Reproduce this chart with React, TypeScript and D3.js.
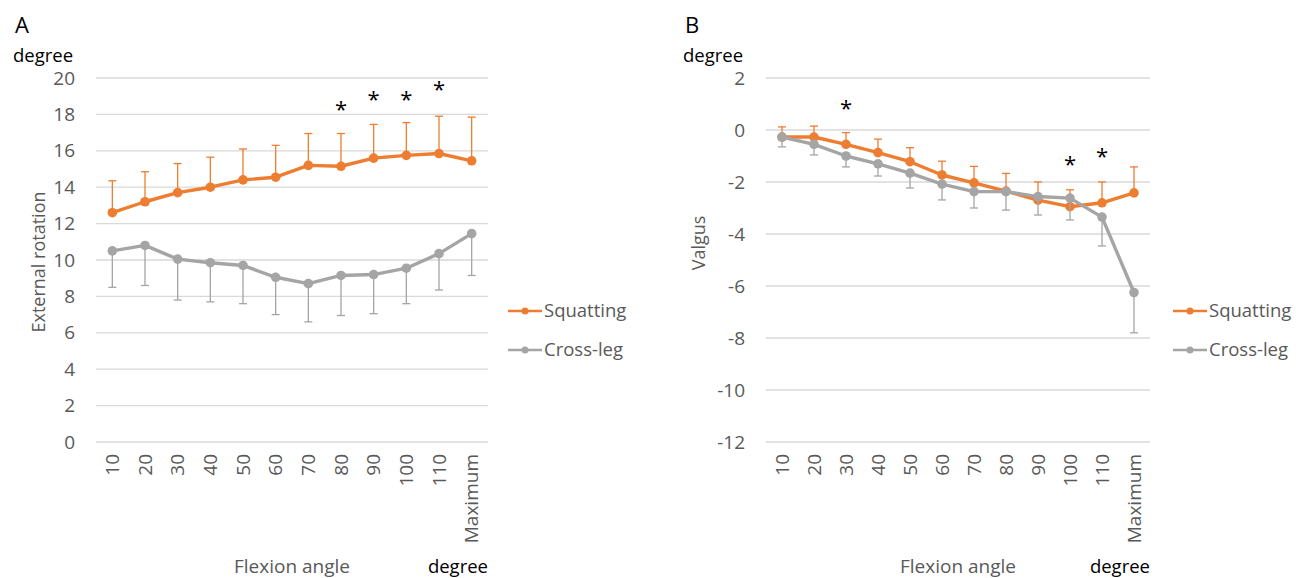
import React from "react";
import * as d3 from "d3";

// flexion angle categories shared by both panels
const categories = ["10", "20", "30", "40", "50", "60", "70", "80", "90", "100", "110", "Maximum"];

// panel A: external rotation (degree)
const squatA = [12.6, 13.2, 13.7, 14.0, 14.4, 14.55, 15.2, 15.15, 15.6, 15.75, 15.85, 15.45];
const squatAUpper = [14.35, 14.85, 15.3, 15.65, 16.1, 16.3, 16.95, 16.95, 17.45, 17.55, 17.9, 17.85];
const crossA = [10.5, 10.8, 10.05, 9.85, 9.7, 9.05, 8.7, 9.15, 9.2, 9.55, 10.35, 11.45];
const crossALower = [8.5, 8.6, 7.8, 7.7, 7.6, 7.0, 6.6, 6.95, 7.05, 7.6, 8.35, 9.15];
const starsA = [null, null, null, null, null, null, null, 18.5, 19.05, 19.05, 19.6, null];
const ticksA = [0, 2, 4, 6, 8, 10, 12, 14, 16, 18, 20];

// panel B: valgus (degree)
const squatB = [-0.27, -0.27, -0.55, -0.87, -1.22, -1.73, -2.03, -2.35, -2.7, -2.95, -2.8, -2.42];
const squatBUpper = [0.12, 0.15, -0.1, -0.35, -0.68, -1.2, -1.4, -1.67, -2.0, -2.3, -2.0, -1.42];
const crossB = [-0.27, -0.55, -1.0, -1.3, -1.66, -2.08, -2.37, -2.37, -2.56, -2.62, -3.35, -6.25];
const crossBLower = [-0.65, -0.96, -1.42, -1.77, -2.23, -2.69, -3.0, -3.08, -3.27, -3.46, -4.46, -7.8];
const starsB = [null, null, 1.0, null, null, null, null, null, null, -1.15, -0.85, null];
const ticksB = [-12, -10, -8, -6, -4, -2, 0, 2];

const ORANGE = "#ED7D31";
const GRAY = "#A5A5A5";
const TEXT = "#595959";
const FONT = "'Open Sans', sans-serif";

type PanelProps = {
  letter: string;
  x0: number;
  x1: number;
  domain: [number, number];
  ticks: number[];
  yTitle: string;
  yTitleX: number;
  yTitleY: number;
  squat: number[];
  squatErr: number[];
  cross: number[];
  crossErr: number[];
  stars: (number | null)[];
  legendX: number;
};

const Panel = (p: PanelProps) => {
  const top = 78, bottom = 442;
  const x = d3.scalePoint<string>().domain(categories).range([p.x0, p.x1]).padding(0.5);
  const y = d3.scaleLinear().domain(p.domain).range([bottom, top]);
  const line = d3.line<number>().x((d, i) => x(categories[i])!).y(d => y(d));

  const series = [
    {name: "Squatting", color: ORANGE, vals: p.squat, err: p.squatErr},
    {name: "Cross-leg", color: GRAY, vals: p.cross, err: p.crossErr},
  ];
  const labelX = p.x0 - 21;

  return (
    <g fontFamily={FONT}>
      <text x={p.x0 - 81} y={33} fontSize={22} fill="#000">{p.letter}</text>
      <text x={p.x0 - 83} y={62} fontSize={18.5} fill="#000">degree</text>

      {/* gridlines + y tick labels */}
      {p.ticks.map(t => (
        <g key={t}>
          <line x1={p.x0} x2={p.x1} y1={y(t)} y2={y(t)} stroke="#D9D9D9" strokeWidth={1.3} />
          <text x={labelX} y={y(t)} dy="0.35em" textAnchor="end" fontSize={19} fill={TEXT}>{t}</text>
        </g>
      ))}

      <text transform={`translate(${p.yTitleX},${p.yTitleY}) rotate(-90)`} textAnchor="middle"
        fontSize={18} fill={TEXT} dy="0.35em">{p.yTitle}</text>

      {/* x tick labels */}
      {categories.map(c => (
        <text key={c} transform={`translate(${x(c)},${bottom + 12}) rotate(-90)`} textAnchor="end"
          dy="0.35em" fontSize={19} fill={TEXT}>{c}</text>
      ))}

      <text x={(p.x0 + p.x1) / 2} y={573} textAnchor="middle" fontSize={19} fill={TEXT}>Flexion angle</text>
      <text x={p.x1} y={573} textAnchor="end" fontSize={18.5} fill="#000">degree</text>

      {series.map(s => (
        <g key={s.name}>
          {s.vals.map((v, i) => {
            const cx = x(categories[i])!;
            return (
              <g key={i}>
                <line x1={cx} x2={cx} y1={y(v)} y2={y(s.err[i])} stroke={s.color} strokeWidth={1.3} />
                <line x1={cx - 4} x2={cx + 4} y1={y(s.err[i])} y2={y(s.err[i])} stroke={s.color} strokeWidth={1.3} />
              </g>
            );
          })}
          <path d={line(s.vals) || ""} fill="none" stroke={s.color} strokeWidth={3.4} strokeLinejoin="round" />
          {s.vals.map((v, i) => (
            <circle key={i} cx={x(categories[i])} cy={y(v)} r={4.8} fill={s.color} />
          ))}
        </g>
      ))}

      {/* significance marks */}
      {p.stars.map((v, i) => v === null ? null : (
        <text key={i} x={x(categories[i])} y={y(v) + 12} textAnchor="middle" fontSize={22} fill="#000">*</text>
      ))}

      {/* legend */}
      {series.map((s, i) => {
        const ly = 311 + i * 39;
        return (
          <g key={s.name}>
            <line x1={p.legendX} x2={p.legendX + 34} y1={ly} y2={ly} stroke={s.color} strokeWidth={2.6} />
            <circle cx={p.legendX + 17} cy={ly} r={3.5} fill={s.color} />
            <text x={p.legendX + 36} y={ly} dy="0.35em" fontSize={18.5} fill={TEXT}>{s.name}</text>
          </g>
        );
      })}
    </g>
  );
};

export default function App() {
  return (
    <svg width={1296} height={578} style={{position: "absolute", left: 0, top: 0, background: "#fff"}}>
      <Panel letter="A" x0={96} x1={488} domain={[0, 20]} ticks={ticksA} yTitle="External rotation" yTitleX={39} yTitleY={262}
        squat={squatA} squatErr={squatAUpper} cross={crossA} crossErr={crossALower} stars={starsA} legendX={508} />
      <Panel letter="B" x0={766} x1={1150} domain={[-12, 2]} ticks={ticksB} yTitle="Valgus" yTitleX={699} yTitleY={243}
        squat={squatB} squatErr={squatBUpper} cross={crossB} crossErr={crossBLower} stars={starsB} legendX={1173} />
    </svg>
  );
}
